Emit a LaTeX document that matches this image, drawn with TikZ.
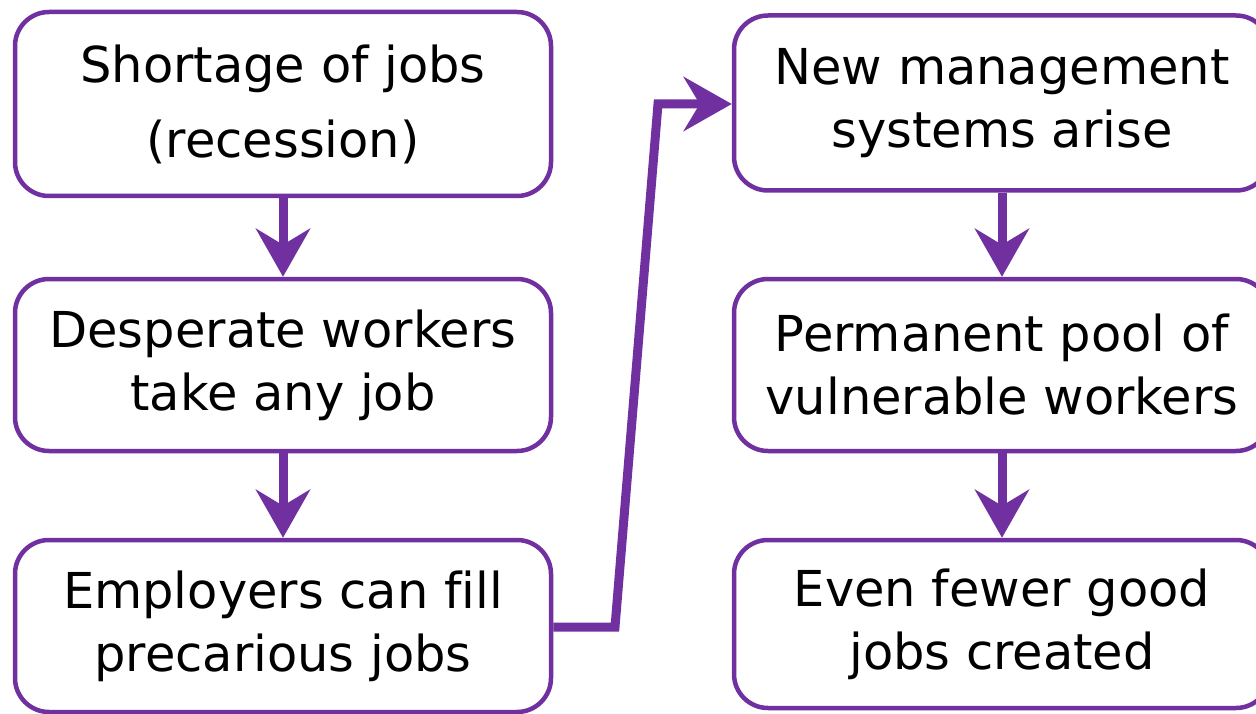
\documentclass[tikz,border=0pt]{standalone}
\usepackage{fontspec}
\setmainfont[Ligatures=NoCommon]{DejaVu Sans}
\usetikzlibrary{arrows.meta}
\definecolor{purp}{RGB}{112,48,160}
\begin{document}
\begin{tikzpicture}[x=1pt,y=-1pt,
  box/.style={draw=purp, line width=4.5pt, rounded corners=34pt, fill=white,
    align=center, inner sep=0pt, minimum width=536pt},
  txt/.style={font=\fontsize{49.5}{63}\selectfont},
  txtwide/.style={font=\fontsize{49.5}{75}\selectfont},
  flow/.style={draw=purp, line width=9pt,
    -{Stealth[length=48pt,width=54pt,inset=16pt]}}]
\useasboundingbox (0,0) rectangle (1256,714);
\fill[white] (0,0) rectangle (1256,714);
\node[box, txtwide, minimum height=184pt] (l1) at (283,104) {Shortage of jobs\\(recession)};
\node[box, txt, minimum height=172pt] (l2) at (283,365) {Desperate workers\\take any job};
\node[box, txt, minimum height=172pt] (l3) at (283,626) {Employers can fill\\precarious jobs};
\node[box, txt, minimum height=175pt] (r1) at (1002,103) {New management\\systems arise};
\node[box, txt, minimum height=172pt] (r2) at (1002,365) {Permanent pool of\\vulnerable workers};
\node[box, txt, minimum height=168pt] (r3) at (1002,624) {Even fewer good\\jobs created};
\coordinate (c1) at (615,627);
\coordinate (c2) at (658,104);
\draw[flow] (l1) -- (l2);
\draw[flow] (l2) -- (l3);
\draw[flow] (r1) -- (r2);
\draw[flow] (r2) -- (r3);
\draw[flow] (l3.east |- c1) -- (c1) -- (c2) -- (c2 -| r1.west);
\end{tikzpicture}
\end{document}
